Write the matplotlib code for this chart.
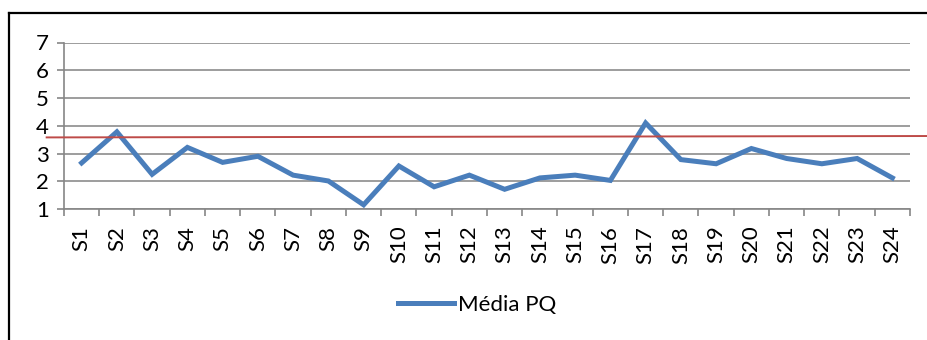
import numpy as np
import matplotlib.pyplot as plt
from matplotlib.lines import Line2D

# Average per session
sessions = ["S%d" % i for i in range(1, 25)]
media_pq = [2.66, 3.78, 2.25, 3.22, 2.68, 2.90, 2.22, 2.01, 1.15, 2.55, 1.80, 2.22,
            1.71, 2.12, 2.22, 2.03, 4.10, 2.78, 2.63, 3.18, 2.82, 2.63, 2.82, 2.12]
# Reference line (level at its left and right ends)
ref_level = [3.58, 3.63]
y_ticks = [1, 2, 3, 4, 5, 6, 7]

plt.rcParams['font.family'] = ['Lato', 'DejaVu Sans']
blue = "#4a7ebb"
gray = "#868686"

fig = plt.figure(figsize=(9.28, 3.40), dpi=100)
ax = fig.add_axes([64 / 928, 1 - 209 / 340, 846 / 928, 166.5 / 340])

x = np.arange(len(sessions))
ax.plot(x, media_pq, color=blue, lw=3.6, solid_joinstyle="miter", zorder=3)

ax.set_xlim(-0.5, len(sessions) - 0.5)
ax.set_ylim(y_ticks[0], y_ticks[-1])
ax.set_yticks(y_ticks)
ax.set_yticklabels([str(t) for t in y_ticks], fontsize=16)
ax.yaxis.grid(True, color="#8c8c8c", lw=1.2)
ax.set_axisbelow(True)

# category labels centred, tick marks on the category boundaries
ax.set_xticks(x)
ax.set_xticklabels(sessions, rotation=90, fontsize=16)
ax.tick_params(axis="x", length=0, pad=12)
ax.set_xticks(np.arange(-0.5, len(sessions)), minor=True)
ax.tick_params(axis="x", which="minor", length=5, color=gray, width=1.2)
ax.tick_params(axis="y", length=5, color=gray, width=1.2, pad=6)

for side in ["top", "right"]:
    ax.spines[side].set_visible(False)
for side in ["left", "bottom"]:
    ax.spines[side].set_color(gray)
    ax.spines[side].set_linewidth(1.2)

# red reference line, running a little past both ends of the plot area
ymin, ymax = ax.get_ylim()
ref_frac = [(v - ymin) / (ymax - ymin) for v in ref_level]
ax.plot([-0.0205, 1.021], ref_frac, color="#be4b48", lw=1.4,
        transform=ax.transAxes, clip_on=False, zorder=4)

leg_handle = Line2D([], [], color=blue, lw=3.6)
fig.legend([leg_handle], ["Média PQ"], loc="center", bbox_to_anchor=(477.5 / 928, 1 - 305 / 340),
           frameon=False, fontsize=16, handlelength=2.5, handletextpad=0.2,
           borderpad=0, borderaxespad=0)

# chart frame
fig.add_artist(Line2D([9 / 928, 9 / 928], [0, 1 - 12.5 / 340], color="black", lw=1.6))
fig.add_artist(Line2D([9 / 928, 1], [1 - 12.5 / 340, 1 - 12.5 / 340], color="black", lw=1.6))

fig.savefig("out.png", dpi=100)
